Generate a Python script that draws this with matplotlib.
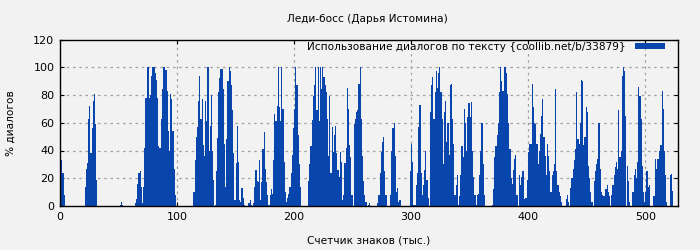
import numpy as np
import matplotlib
matplotlib.use("Agg")
import matplotlib.pyplot as plt
from matplotlib.patches import Patch

# % of dialogue per 1000 characters of text
dialog_pct = [
    16, 33, 24, 8, 0, 0, 0, 0, 0, 0,   0, 0, 0, 0, 0, 0, 0, 0, 0, 0,
    0, 14, 27, 31, 63, 72, 38, 56, 76, 81,   59, 19, 0, 0, 0, 0, 0, 0, 0, 0,
    0, 0, 0, 0, 0, 0, 0, 0, 0, 0,   0, 1, 3, 1, 0, 0, 0, 0, 0, 0,
    0, 0, 0, 0, 2, 5, 16, 24, 25, 14,   2, 14, 42, 78, 100, 100, 78, 80, 94, 100,
    100, 96, 91, 78, 43, 42, 63, 84, 100, 100,   98, 83, 54, 40, 81, 77, 54, 27, 8, 0,
    0, 0, 0, 0, 0, 0, 0, 0, 0, 0,   0, 0, 0, 0, 10, 33, 50, 57, 76, 94,
    63, 77, 44, 36, 76, 61, 100, 40, 58, 80,   40, 19, 1, 25, 49, 82, 92, 99, 99, 84,
    45, 14, 48, 90, 100, 97, 87, 69, 38, 4,   31, 58, 32, 4, 3, 13, 6, 1, 0, 0,
    0, 2, 4, 1, 0, 2, 14, 26, 18, 17,   33, 4, 17, 41, 53, 27, 17, 8, 1, 8,
    12, 9, 33, 66, 61, 72, 100, 71, 61, 100,   70, 32, 10, 3, 6, 9, 14, 24, 37, 56,
    70, 100, 87, 51, 30, 14, 0, 0, 0, 0,   0, 0, 18, 30, 43, 62, 79, 87, 100, 69,
    100, 61, 100, 84, 100, 93, 87, 82, 63, 36,   79, 24, 57, 39, 51, 58, 38, 26, 21, 39,
    32, 4, 8, 31, 42, 85, 70, 44, 35, 8,   0, 59, 63, 68, 69, 88, 100, 63, 36, 18,
    8, 3, 0, 1, 2, 0, 0, 0, 0, 0,   0, 2, 8, 24, 39, 46, 50, 25, 8, 0,
    0, 0, 8, 40, 56, 60, 36, 10, 13, 3,   4, 0, 0, 0, 0, 0, 0, 0, 0, 25,
    45, 32, 1, 1, 15, 24, 57, 73, 24, 8,   15, 26, 40, 19, 6, 0, 68, 87, 93, 63,
    82, 97, 85, 96, 100, 82, 63, 30, 68, 76,   46, 60, 37, 87, 88, 63, 45, 8, 15, 22,
    1, 7, 22, 43, 35, 70, 60, 40, 64, 74,   64, 75, 40, 21, 8, 1, 8, 9, 22, 40,
    60, 30, 8, 0, 0, 0, 0, 0, 0, 1,   12, 35, 43, 51, 60, 82, 100, 90, 83, 100,
    100, 96, 81, 60, 41, 20, 16, 26, 34, 37,   8, 0, 22, 15, 21, 25, 5, 6, 6, 19,
    39, 45, 45, 88, 71, 60, 59, 45, 30, 40,   52, 65, 77, 50, 36, 22, 45, 36, 25, 10,
    22, 25, 30, 84, 25, 15, 10, 7, 3, 0,   0, 0, 5, 8, 3, 0, 13, 20, 27, 33,
    41, 82, 48, 45, 60, 91, 90, 44, 50, 71,   68, 29, 20, 10, 3, 0, 18, 25, 30, 34,
    60, 27, 10, 8, 7, 7, 12, 15, 10, 7,   0, 8, 15, 22, 28, 32, 27, 69, 35, 40,
    94, 100, 97, 65, 29, 18, 3, 0, 0, 10,   22, 27, 20, 32, 86, 79, 63, 29, 10, 3,
    10, 25, 14, 15, 0, 0, 0, 7, 34, 27,   34, 34, 40, 44, 83, 70, 40, 22, 3, 0,
    0, 22, 23, 11, 0, 0, 0, 0,
]
kchars = np.arange(len(dialog_pct))

title = "Леди-босс (Дарья Истомина)"
legend_label = "Использование диалогов по тексту {coollib.net/b/33879}"
x_label = "Счетчик знаков (тыс.)"
y_label = "% диалогов"
x_ticks = [0, 100, 200, 300, 400, 500]
y_ticks = [0, 20, 40, 60, 80, 100, 120]

bar_color = "#0846ad"
bg = "#f2f2f2"
fs = 7.6

fig = plt.figure(figsize=(7, 2.5), dpi=100, facecolor=bg)
ax = fig.add_axes([60 / 700, 1 - 206 / 250, 618 / 700, 166.5 / 250])
ax.set_facecolor(bg)

ax.bar(kchars, dialog_pct, width=1.0, align="edge", color=bar_color,
       linewidth=0, zorder=2)

ax.set_xlim(0, 528)
ax.set_ylim(0, 120)
ax.set_xticks(x_ticks)
ax.set_yticks(y_ticks)

# dotted grid, not on the frame
for x in x_ticks[1:]:
    ax.axvline(x, color="#a0a0a0", lw=0.9, ls=(0, (2, 3)), zorder=1)
for y in y_ticks[1:-1]:
    ax.axhline(y, color="#a0a0a0", lw=0.9, ls=(0, (2, 3)), zorder=1)

ax.tick_params(direction="in", length=3, width=0.8, labelsize=8,
               top=True, right=True, pad=4, labelbottom=True, labelleft=True)
for s in ax.spines.values():
    s.set_linewidth(1.0)
    s.set_color("black")

fig.text(367 / 700, 1 - 19 / 250, title, ha="center", va="center", fontsize=fs)
ax.set_xlabel(x_label, fontsize=fs, labelpad=10)
ax.set_ylabel(y_label, fontsize=fs, labelpad=13)

ax.legend(handles=[Patch(facecolor=bar_color, edgecolor="none", label=legend_label)],
          loc="upper right", bbox_to_anchor=(0.982, 1.0), frameon=False,
          fontsize=fs, markerfirst=False, handlelength=2.8, handleheight=0.6,
          borderaxespad=0, handletextpad=0.9, borderpad=0.2)

plt.savefig("out.png", dpi=100, facecolor=bg)
